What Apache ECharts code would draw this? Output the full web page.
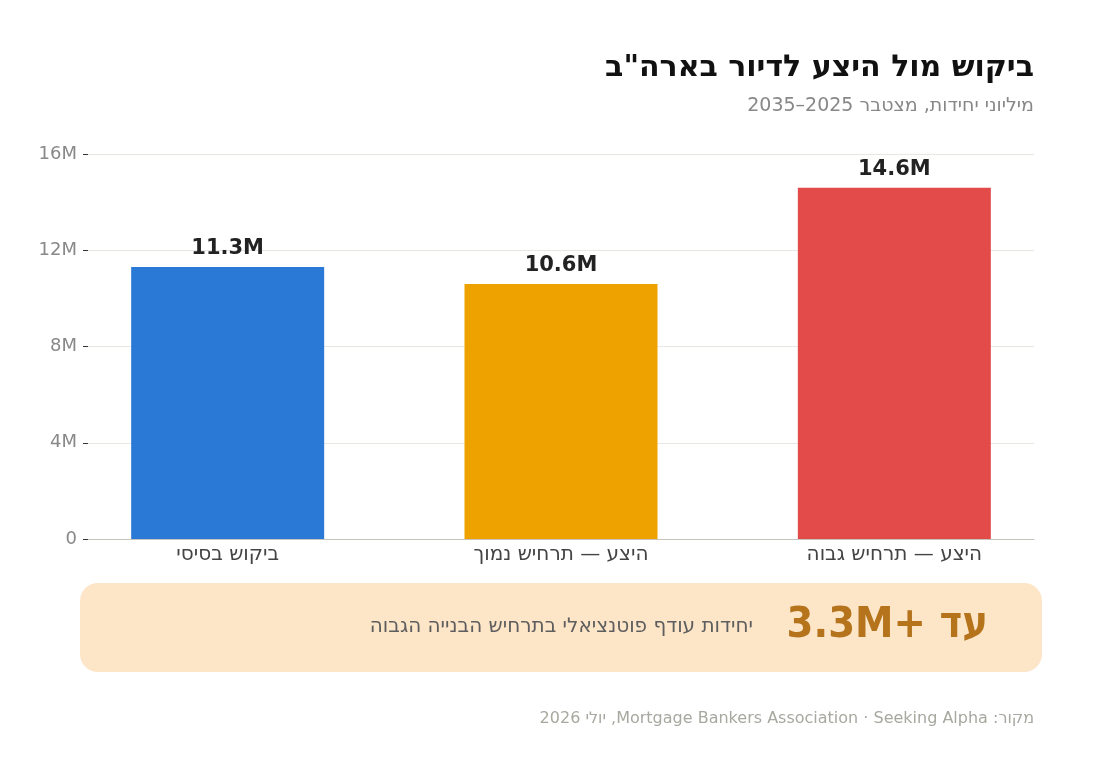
<!DOCTYPE html>
<html lang="he">
<head>
    <meta charset="UTF-8">
    <title>ביקוש מול היצע לדיור</title>
    <script src="https://cdn.jsdelivr.net/npm/echarts@6/dist/echarts.min.js"></script>
    <style>
        html, body {
            margin: 0;
            padding: 0;
            background: #fff;
        }
        #box {
            width: 1100px;
            height: 770px;
        }
    </style>
</head>
<body>
<div id="box"></div>
<script>
    // data
    var categories = ['ביקוש בסיסי', 'היצע — תרחיש נמוך', 'היצע — תרחיש גבוה'];
    var values = [11.3, 10.6, 14.6];
    var barColors = ['#2B79D6', '#EDA200', '#E34A4A'];
    var yTicks = [0, 4, 8, 12, 16];

    // RTL embedding so mixed Hebrew / latin text is ordered right
    function rtl(s) {
        return '\u202B' + s + '\u202C';
    }

    var font = '"DejaVu Sans", "Noto Sans", sans-serif';

    var myChart = echarts.init(document.getElementById('box'), null, {renderer: 'canvas'});
    var option = {
        animation: false,
        backgroundColor: '#fff',
        grid: {
            left: 88,
            right: 66,
            top: 154,
            bottom: 231,
            containLabel: false
        },
        // value axis with side margins, bars sit on 0,1,2
        xAxis: {
            type: 'value',
            min: -0.419,
            max: 2.419,
            axisLine: {show: true, lineStyle: {color: '#c4c4bc', width: 1.2}},
            axisTick: {show: false},
            splitLine: {show: false},
            axisLabel: {
                customValues: [0, 1, 2],
                fontFamily: font,
                fontSize: 20,
                color: '#444',
                margin: 6,
                formatter: function (v) {
                    return categories[Math.round(v)] || '';
                }
            }
        },
        yAxis: {
            type: 'value',
            min: yTicks[0],
            max: yTicks[yTicks.length - 1],
            interval: yTicks[1] - yTicks[0],
            axisLine: {show: false, onZero: false},
            axisTick: {show: true, length: 5, lineStyle: {color: '#333'}},
            axisLabel: {
                fontFamily: font,
                fontSize: 18,
                color: '#888',
                margin: 11,
                formatter: function (v) {
                    return v === 0 ? '0' : v + 'M';
                }
            },
            splitLine: {lineStyle: {color: '#e8e8e3', width: 1}}
        },
        series: [
            {
                type: 'bar',
                barWidth: 193,
                data: values.map(function (v, i) {
                    return {value: [i, v], itemStyle: {color: barColors[i]}};
                }),
                label: {
                    show: true,
                    position: 'top',
                    distance: 8,
                    fontFamily: font,
                    fontSize: 21,
                    fontWeight: 'bold',
                    color: '#222',
                    formatter: function (p) {
                        return p.value[1].toFixed(1) + 'M';
                    }
                }
            }
        ],
        graphic: [
            {
                type: 'text',
                x: 1034,
                y: 68,
                style: {
                    text: rtl('ביקוש מול היצע לדיור בארה"ב'),
                    textAlign: 'right',
                    textVerticalAlign: 'middle',
                    font: 'bold 30px ' + font,
                    fill: '#111'
                }
            },
            {
                type: 'text',
                x: 1034,
                y: 106,
                style: {
                    text: rtl('מיליוני יחידות, מצטבר 2025–2035'),
                    textAlign: 'right',
                    textVerticalAlign: 'middle',
                    font: '19px ' + font,
                    fill: '#888'
                }
            },
            {
                type: 'rect',
                shape: {x: 80, y: 583, width: 962, height: 89, r: 18},
                style: {fill: '#FDE5C8'},
                z: 1
            },
            {
                type: 'text',
                x: 988,
                y: 626,
                z: 2,
                style: {
                    text: rtl('עד +3.3M'),
                    textAlign: 'right',
                    textVerticalAlign: 'middle',
                    font: 'bold 43px "DejaVu Sans Condensed", "DejaVu Sans", sans-serif',
                    fill: '#B5731C'
                }
            },
            {
                type: 'text',
                x: 753,
                y: 627,
                z: 2,
                style: {
                    text: rtl('יחידות עודף פוטנציאלי בתרחיש הבנייה הגבוה'),
                    textAlign: 'right',
                    textVerticalAlign: 'middle',
                    font: '20px ' + font,
                    fill: '#5e5e5e'
                }
            },
            {
                type: 'text',
                x: 1034,
                y: 719,
                z: 2,
                style: {
                    text: rtl('מקור: Mortgage Bankers Association · Seeking Alpha, יולי 2026'),
                    textAlign: 'right',
                    textVerticalAlign: 'middle',
                    font: '16px ' + font,
                    fill: '#a8a8a0'
                }
            }
        ]
    };

    myChart.setOption(option);
    window.addEventListener('resize', myChart.resize);
</script>
</body>
</html>
